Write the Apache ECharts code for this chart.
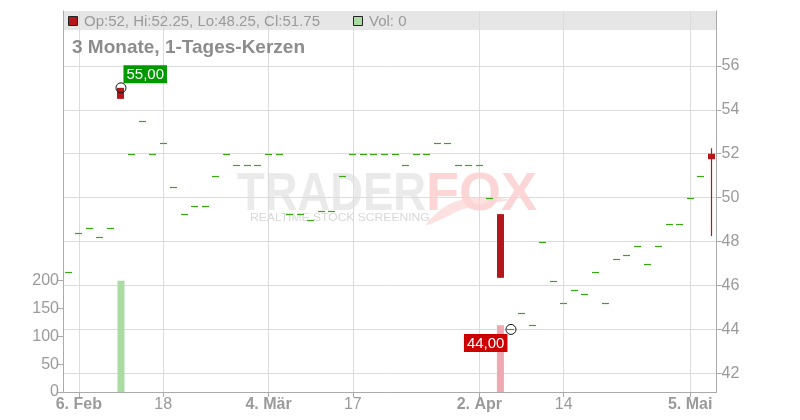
<!DOCTYPE html>
<html><head><meta charset="utf-8">
<script src="https://cdn.jsdelivr.net/npm/echarts@6/dist/echarts.min.js"></script>
<style>html,body{margin:0;padding:0;background:#fff}#c{width:800px;height:420px}</style>
</head><body><div id="c"></div>
<script>
// ---- data ----
const dates = ['2025-02-05','2025-02-06','2025-02-07','2025-02-10','2025-02-11','2025-02-12','2025-02-13','2025-02-14','2025-02-17','2025-02-18',
 '2025-02-19','2025-02-20','2025-02-21','2025-02-24','2025-02-25','2025-02-26','2025-02-27','2025-02-28','2025-03-03','2025-03-04',
 '2025-03-05','2025-03-06','2025-03-07','2025-03-10','2025-03-11','2025-03-12','2025-03-13','2025-03-17','2025-03-18','2025-03-19',
 '2025-03-20','2025-03-21','2025-03-24','2025-03-25','2025-03-26','2025-03-27','2025-03-28','2025-03-31','2025-04-01','2025-04-02',
 '2025-04-03','2025-04-04','2025-04-07','2025-04-08','2025-04-09','2025-04-10','2025-04-11','2025-04-14','2025-04-15','2025-04-16',
 '2025-04-17','2025-04-22','2025-04-23','2025-04-24','2025-04-25','2025-04-28','2025-04-29','2025-04-30','2025-05-02','2025-05-05',
 '2025-05-06','2025-05-07'];
const opens  = [46.6,48.4,48.6,48.2,48.6,55,52,53.5,52,52.5,50.5,49.25,49.6,49.6,51,52,51.5,51.5,51.5,52,52,49.25,49.25,49,49.4,49.4,51,52,52,52,52,52,51.5,52,52,52.5,52.5,51.5,51.5,51.5,50,49.25,44,44.75,44.2,48,46.2,45.2,45.8,45.6,46.6,45.2,47.2,47.4,47.8,47,47.8,48.8,48.8,50,51,52];
const highs  = [46.6,48.4,48.6,48.2,48.6,55,52,53.5,52,52.5,50.5,49.25,49.6,49.6,51,52,51.5,51.5,51.5,52,52,49.25,49.25,49,49.4,49.4,51,52,52,52,52,52,51.5,52,52,52.5,52.5,51.5,51.5,51.5,50,49.25,44,44.75,44.2,48,46.2,45.2,45.8,45.6,46.6,45.2,47.2,47.4,47.8,47,47.8,48.8,48.8,50,51,52.25];
const lows   = [46.6,48.4,48.6,48.2,48.6,54.5,52,53.5,52,52.5,50.5,49.25,49.6,49.6,51,52,51.5,51.5,51.5,52,52,49.25,49.25,49,49.4,49.4,51,52,52,52,52,52,51.5,52,52,52.5,52.5,51.5,51.5,51.5,50,46.35,44,44.75,44.2,48,46.2,45.2,45.8,45.6,46.6,45.2,47.2,47.4,47.8,47,47.8,48.8,48.8,50,51,48.25];
const closes = [46.6,48.4,48.6,48.2,48.6,54.5,52,53.5,52,52.5,50.5,49.25,49.6,49.6,51,52,51.5,51.5,51.5,52,52,49.25,49.25,49,49.4,49.4,51,52,52,52,52,52,51.5,52,52,52.5,52.5,51.5,51.5,51.5,50,46.35,44,44.75,44.2,48,46.2,45.2,45.8,45.6,46.6,45.2,47.2,47.4,47.8,47,47.8,48.8,48.8,50,51,51.75];
const volumes = [0,0,0,0,0,200,0,0,0,0,0,0,0,0,0,0,0,0,0,0,0,0,0,0,0,0,0,0,0,0,0,0,0,0,0,0,0,0,0,0,0,120,0,0,0,0,0,0,0,0,0,0,0,0,0,0,0,0,0,0,0,0];
const priceTicks = [42,44,46,48,50,52,54,56];
const volumeTicks = [0,50,100,150,200];
const xTickIndex = [1,9,19,27,39,47,59];
const xTickText = ['6. Feb','18','4. Mär','17','2. Apr','14','5. Mai'];
const titleText = '3 Monate, 1-Tages-Kerzen';
const legendText = 'Op:52, Hi:52.25, Lo:48.25, Cl:51.75';
const volLegendText = 'Vol: 0';
const marks = [ {index:5, value:55, text:'55,00', kind:'high'}, {index:42, value:44, text:'44,00', kind:'low'} ];

// ---- style ----
const FONT = '"Liberation Sans", Arial, sans-serif';
const GREEN = '#35a812', RED = '#b3171b', AXIS = '#aaaaaa', GRID = '#dcdcdc', TXT = '#9a9a9a';
const VOL_UP = '#a9dba3', VOL_DOWN = '#f0a8b0';

const chart = echarts.init(document.getElementById('c'), null, {renderer:'canvas'});
const ohlc = dates.map((d,i)=>[i, opens[i], closes[i], lows[i], highs[i]]);
const volData = volumes.map((v,i)=>({value:[i,v], itemStyle:{color: (i>0 && closes[i] < closes[i-1]) ? VOL_DOWN : VOL_UP}}));

const option = {
  animation:false,
  backgroundColor:'#fff',
  textStyle:{fontFamily:FONT},
  grid:{left:63, right:83.5, top:11, bottom:28, containLabel:false},
  xAxis:{
    type:'value', min:-0.5, max:dates.length-0.5,
    axisLine:{show:true, onZero:false, lineStyle:{color:AXIS}},
    axisTick:{show:true, length:5, lineStyle:{color:AXIS}, customValues:xTickIndex},
    axisLabel:{customValues:xTickIndex, color:TXT, fontSize:16, fontFamily:FONT, margin:5,
      formatter:(v)=>{const k=xTickIndex.indexOf(Math.round(v)); const t=xTickText[k]||''; return /\D/.test(t)?'{b|'+t+'}':t;},
      rich:{b:{fontWeight:'bold', fontSize:16, color:TXT, fontFamily:FONT}}},
    splitLine:{show:true, lineStyle:{color:GRID, width:1}}
  },
  yAxis:[{
    type:'value', position:'right', min:41.15, max:58.5,
    axisLine:{show:true, onZero:false, lineStyle:{color:AXIS}},
    axisTick:{show:true, length:5, lineStyle:{color:AXIS}, customValues:priceTicks},
    axisLabel:{customValues:priceTicks, color:TXT, fontSize:16, fontFamily:FONT, margin:5},
    splitLine:{show:true, lineStyle:{color:GRID, width:1}}
  },{
    type:'value', position:'left', min:0, max:684.6,
    axisLine:{show:true, onZero:false, lineStyle:{color:AXIS}},
    axisTick:{show:true, length:5, lineStyle:{color:AXIS}, customValues:volumeTicks},
    axisLabel:{customValues:volumeTicks, color:TXT, fontSize:16, fontFamily:FONT, margin:4},
    splitLine:{show:false}
  }],
  graphic:{elements:[
    {type:'rect', z:-10, shape:{x:63.5, y:11, width:652.5, height:19}, style:{fill:'#e6e6e6'}},
    {type:'text', z:-5, x:237, y:195, scaleX:0.84, style:{text:'TRADER', fill:'#eaeaea', font:'bold 54px '+FONT, textVerticalAlign:'middle'}},
    {type:'polygon', z:-6, shape:{smooth:0.35, points:[[426,225],[438,212],[452,203],[470,198],[490,197],[508,200],[492,203],[474,206],[458,211],[444,218]]}, style:{fill:'#fde0e0'}},
    {type:'text', z:-5, x:426, y:195, scaleX:1.0, style:{text:'FOX', fill:'#fcd6d6', font:'bold 54px '+FONT, textVerticalAlign:'middle'}},
    {type:'text', z:-5, x:250, y:218, scaleX:1.1, style:{text:'REALTIME STOCK SCREENING', fill:'#d8d8d8', font:'11px '+FONT, textVerticalAlign:'middle'}},
    {type:'rect', z:50, shape:{x:68.5, y:16.5, width:9, height:9}, style:{fill:'#b3171b', stroke:'#222', lineWidth:1}},
    {type:'text', z:50, x:84, y:21.5, style:{text:legendText, fill:TXT, font:'15px '+FONT, textVerticalAlign:'middle'}},
    {type:'rect', z:50, shape:{x:353.5, y:16.5, width:9, height:9}, style:{fill:VOL_UP, stroke:'#222', lineWidth:1}},
    {type:'text', z:50, x:369, y:21.5, style:{text:volLegendText, fill:TXT, font:'15px '+FONT, textVerticalAlign:'middle'}},
    {type:'text', z:50, x:72, y:47.5, style:{text:titleText, fill:'#8c8c8c', font:'bold 19px '+FONT, textVerticalAlign:'middle'}}
  ]},
  series:[
    {
      type:'bar', xAxisIndex:0, yAxisIndex:1, barWidth:7, data:volData, z:1, silent:true
    },
    {
      type:'custom', xAxisIndex:0, yAxisIndex:0, z:3, silent:true,
      data:ohlc, encode:{x:0, y:[1,2,3,4]},
      renderItem:(params, api)=>{
        const i=api.value(0), o=api.value(1), c=api.value(2), l=api.value(3), h=api.value(4);
        const p=api.coord([i,o]);
        const x=p[0];
        const yo=p[1], yc=api.coord([i,c])[1], yl=api.coord([i,l])[1], yh=api.coord([i,h])[1];
        const w=7;
        const x1=Math.round(x-w/2);
        if (o===c && h===l){
          const y=Math.round(yo)+0.5;
          return {type:'line', shape:{x1:x1, y1:y, x2:x1+w, y2:y}, style:{stroke:GREEN, lineWidth:1.2}};
        }
        const col = c<o ? RED : GREEN;
        const xc = x1 + 3.5;
        return {type:'group', children:[
          {type:'line', shape:{x1:xc, y1:yh, x2:xc, y2:yl}, style:{stroke:col, lineWidth:1.2}},
          {type:'rect', shape:{x:x1, y:Math.min(yo,yc), width:w, height:Math.max(Math.abs(yo-yc),1)}, style:{fill:col}}
        ]};
      }
    },
    {
      type:'scatter', xAxisIndex:0, yAxisIndex:0, z:5, silent:true,
      symbol:'circle', symbolSize:10,
      itemStyle:{color:'rgba(255,255,255,0)', borderColor:'#111', borderWidth:1, opacity:1},
      data: marks.map(m=>({
        value:[m.index, m.value],
        label:{show:true, formatter:m.text, color:'#fff', fontSize:15, fontFamily:FONT,
          backgroundColor: m.kind==='high' ? '#009900' : '#cc0000', padding:[2,3,1,3],
          position: m.kind==='high' ? [8,1] : [2,10],
          align: m.kind==='high' ? 'left' : 'right',
          verticalAlign: m.kind==='high' ? 'bottom' : 'top'}
      }))
    }
  ]
};
chart.setOption(option);
</script>
</body></html>
